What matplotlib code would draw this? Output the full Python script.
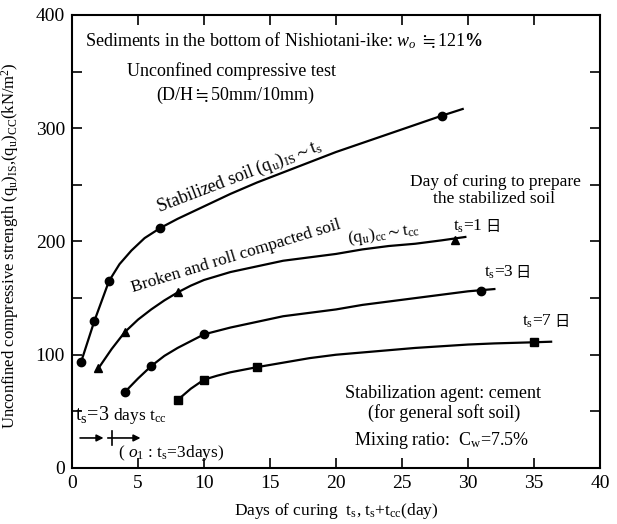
import matplotlib
matplotlib.use('Agg')
import matplotlib.pyplot as plt

plt.rcParams['font.family'] = ['Liberation Serif', 'DejaVu Serif', 'Noto Sans CJK JP']
plt.rcParams['mathtext.fontset'] = 'custom'
plt.rcParams['mathtext.rm'] = 'Liberation Serif'
plt.rcParams['mathtext.it'] = 'Liberation Serif:italic'
plt.rcParams['mathtext.bf'] = 'Liberation Serif:bold'
plt.rcParams['mathtext.fallback'] = 'stix'

# ---- measured points ----
stab_x = [0.7, 1.7, 2.8, 6.7, 28.0]
stab_y = [94, 130, 165, 212, 311]
ts1_x = [2.0, 4.0, 8.0, 29.0]
ts1_y = [88, 120, 155, 201]
ts3_x = [4.0, 6.0, 10.0, 31.0]
ts3_y = [67, 90, 118, 156]
ts7_x = [8.0, 10.0, 14.0, 35.0]
ts7_y = [60, 78, 89, 111]

# ---- fitted curves ----
stab_cx = [0.7, 1.7, 2.8, 3.6, 4.5, 5.5, 6.7, 8, 10, 12, 14, 16, 18, 20, 22, 24, 26, 28, 29.6]
stab_cy = [94, 130, 165, 180, 192, 203, 212, 220, 231, 242, 252, 261, 270, 279, 287, 295, 303, 311, 317]
ts1_cx = [2, 3, 4, 5, 6, 7, 8, 9, 10, 12, 14, 16, 18, 20, 22, 24, 26, 28, 29.8]
ts1_cy = [88, 105, 120, 131, 140, 148, 155, 161, 166, 173, 178, 183, 186, 189, 193, 196, 198, 201, 204]
ts3_cx = [4, 5, 6, 7, 8, 9, 10, 12, 14, 16, 18, 20, 22, 24, 26, 28, 30, 32]
ts3_cy = [67, 79, 90, 99, 106, 112, 118, 124, 129, 134, 137, 140, 144, 147, 150, 153, 156, 158]
ts7_cx = [8, 9, 10, 11, 12, 14, 16, 18, 20, 22, 24, 26, 28, 30, 32, 35, 36.3]
ts7_cy = [60, 70, 78, 81.5, 84.5, 89, 93, 97, 100, 102, 104, 106, 107.5, 109, 110, 111, 111.5]

x_ticks = [0, 5, 10, 15, 20, 25, 30, 35, 40]
y_ticks = [0, 50, 100, 150, 200, 250, 300, 350, 400]
y_ticklabels = ['0', '', '100', '', '200', '', '300', '', '400']

fig = plt.figure(figsize=(6.17, 5.24), dpi=100)
ax = fig.add_axes([0.1167, 0.1069, 0.8557, 0.8645])

lw = 1.6
ax.plot(stab_cx, stab_cy, 'k-', lw=lw)
ax.plot(ts1_cx, ts1_cy, 'k-', lw=lw)
ax.plot(ts3_cx, ts3_cy, 'k-', lw=lw)
ax.plot(ts7_cx, ts7_cy, 'k-', lw=lw)
ax.plot(stab_x, stab_y, 'ko', ms=6, ls='none')
ax.plot(ts1_x, ts1_y, 'k^', ms=6, ls='none')
ax.plot(ts3_x, ts3_y, 'ko', ms=6, ls='none')
ax.plot(ts7_x, ts7_y, 'ks', ms=5.5, ls='none')

ax.set_xlim(0, 40)
ax.set_ylim(0, 400)
ax.set_xticks(x_ticks)
ax.set_yticks(y_ticks)
ax.set_yticklabels(y_ticklabels)
ax.tick_params(direction='in', length=7.5, width=1.2, top=True, right=True,
               labelsize=14, pad=5)
for s in ax.spines.values():
    s.set_linewidth(1.5)

ax.set_xlabel(r'Days of curing  $\mathrm{t_s}$, $\mathrm{t_s}$+$\mathrm{t_{cc}}$(day)', fontsize=12.5)
ax.set_ylabel(r'Unconfined compressive strength $\mathrm{(q_u)_{IS}}$,$\mathrm{(q_u)_{CC}}$(kN/m$^2$)',
              fontsize=12)
ax.xaxis.set_label_coords(0.5, -0.072)
ax.yaxis.set_label_coords(-0.096, 0.49)

fs = 13
ax.text(1.0, 372, r'Sediments in the bottom of Nishiotani-ike: $w_o$ $\fallingdotseq$121$\mathbf{\%}$', fontsize=fs)
ax.text(12.1, 346, 'Unconfined compressive test', fontsize=fs, ha='center')
ax.text(12.35, 325, r'(D/H$\fallingdotseq$50mm/10mm)', fontsize=fs, ha='center')

ax.text(6.6, 226, r'Stabilized soil $\mathrm{(q_u)_{IS}}$$\sim$$\mathrm{t_s}$', fontsize=fs,
        rotation=21, rotation_mode='anchor')
ax.text(4.6, 155, 'Broken and roll compacted soil', fontsize=12.5,
        rotation=17, rotation_mode='anchor')
ax.text(20.9, 199, r'$\mathrm{(q_u)_{cc}}$$\sim$$\mathrm{t_{cc}}$', fontsize=12.5,
        rotation=8, rotation_mode='anchor')

ax.text(32.1, 249, 'Day of curing to prepare', fontsize=12.5, ha='center')
ax.text(32.0, 234, 'the stabilized soil', fontsize=12.5, ha='center')

for xx, yy, lab in [(28.9, 210, '1'), (31.2, 169, '3'), (34.1, 126, '7')]:
    t = ax.text(xx, yy, r'$\mathrm{t_s}$=' + lab, fontsize=12.5)
    ax.annotate('日', xy=(1, 0), xycoords=t, fontsize=11, va='bottom',
                family=['Noto Sans CJK JP'], xytext=(1.5, 0), textcoords='offset points')

ax.text(28.1, 62, 'Stabilization agent: cement', fontsize=fs, ha='center')
ax.text(28.2, 44, '(for general soft soil)', fontsize=fs, ha='center')
ax.text(28.0, 20, r'Mixing ratio:  $\mathrm{C_w}$=7.5%', fontsize=fs, ha='center')

ax.text(0.2, 42, r'$\mathrm{t_s}$=3', fontsize=14.5)
ax.text(3.1, 42, r'days $\mathrm{t_{cc}}$', fontsize=12.5)
ax.annotate('', xy=(2.6, 26.5), xytext=(0.4, 26.5),
            arrowprops=dict(arrowstyle='-|>', color='k', lw=1.2, mutation_scale=10))
ax.annotate('', xy=(5.4, 26.5), xytext=(2.5, 26.5),
            arrowprops=dict(arrowstyle='-|>', color='k', lw=1.2, mutation_scale=10))
ax.plot([3, 3], [20, 33], 'k-', lw=1.2)
ax.text(3.5, 10, r'( $o_1$ : $\mathrm{t_s}$=3days)', fontsize=12.5)

fig.savefig('out.png', dpi=100)
